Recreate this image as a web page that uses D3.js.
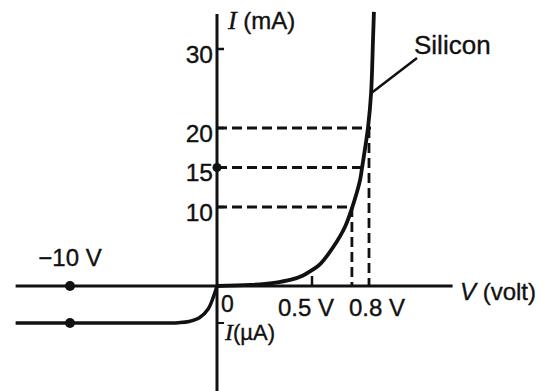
<!DOCTYPE html>
<html>
<head>
<meta charset="utf-8">
<script src="https://cdn.jsdelivr.net/npm/d3@7"></script>
<style>
  html, body { margin: 0; padding: 0; background: #ffffff; }
  svg { display: block; }
  text { font-family: "Liberation Sans", Arial, Helvetica, sans-serif; fill: #111; stroke: #111; stroke-width: 0.35px; }
</style>
</head>
<body>
<svg id="chart" width="552" height="391"></svg>
<script>
// Forward characteristic of a silicon diode: voltage (V) and current (mA)
const forwardVolts = [0, 0.174, 0.3, 0.39, 0.45, 0.5, 0.54, 0.611, 0.674, 0.711, 0.753, 0.763, 0.795, 0.811, 0.821, 0.826];
const forwardMilliamps = [0, 0.13, 0.4, 0.8, 1.3, 2.0, 2.7, 4.9, 7.5, 9.9, 13.4, 14.9, 20.1, 24.4, 31.1, 34.7];

// Reverse characteristic: voltage (V) and leakage current (µA)
const reverseVolts = [-13.7, -10, -5, -2.6, -1.9, -1.2, -0.6, -0.25, 0];
const reverseMicroamps = [-1.0, -1.0, -1.0, -0.99, -0.96, -0.86, -0.62, -0.3, 0];

// Current ticks on the vertical axis (mA) and the reference readings
const currentTicks = [10, 15, 20, 30];
const readingCurrents = [10, 15, 20];
const readingVolts = [0.71, 0.76, 0.8];
const droppedReadings = [10, 20];          // readings carried down to the voltage axis
const voltTicks = [0.5, 0.8];
const voltTickLabels = ["0.5 V", "0.8 V"];
const reverseMarkVolts = [-10];
const reverseMarkLabels = ["\u221210 V"];
const reverseLeakage = -1.0;                // µA plateau marked on the curve

const svg = d3.select("#chart");
const ink = "#111";

// Scales
const x = d3.scaleLinear().domain([0, 0.8]).range([217, 369]);          // forward volts
const xRev = d3.scaleLinear().domain([-10, 0]).range([70, 217]);        // reverse volts
const y = d3.scaleLinear().domain([0, 30]).range([286, 49]);            // mA
const yRev = d3.scaleLinear().domain([-1, 0]).range([323, 286]);        // µA

const originX = x(0), originY = y(0);

// Axes
svg.append("line")
  .attr("x1", xRev(-13.7)).attr("x2", x(1.24))
  .attr("y1", originY).attr("y2", originY)
  .attr("stroke", ink).attr("stroke-width", 3);
svg.append("line")
  .attr("x1", originX).attr("x2", originX)
  .attr("y1", 14).attr("y2", 391)
  .attr("stroke", ink).attr("stroke-width", 3);

// Dashed reference lines
const dash = "10,5";
readingCurrents.forEach((c, i) => {
  svg.append("line")
    .attr("x1", originX).attr("x2", x(readingVolts[i]) + 2)
    .attr("y1", y(c)).attr("y2", y(c))
    .attr("stroke", ink).attr("stroke-width", 2.8)
    .attr("stroke-dasharray", dash);
});
droppedReadings.forEach(c => {
  const v = readingVolts[readingCurrents.indexOf(c)];
  svg.append("line")
    .attr("x1", x(v)).attr("x2", x(v))
    .attr("y1", y(c)).attr("y2", originY)
    .attr("stroke", ink).attr("stroke-width", 2.8)
    .attr("stroke-dasharray", dash);
});

// Current ticks and labels
currentTicks.forEach(c => {
  svg.append("line")
    .attr("x1", originX).attr("x2", originX + 7)
    .attr("y1", y(c)).attr("y2", y(c))
    .attr("stroke", ink).attr("stroke-width", 2.5);
  svg.append("text")
    .attr("x", originX - 4).attr("y", y(c) + 5)
    .attr("dy", "0.35em")
    .attr("text-anchor", "end")
    .attr("font-size", 24.5)
    .text(c);
});
svg.append("circle").attr("cx", originX).attr("cy", y(15)).attr("r", 4.5).attr("fill", ink);

// Leakage tick on the µA side
svg.append("line")
  .attr("x1", originX).attr("x2", originX + 7)
  .attr("y1", yRev(reverseLeakage)).attr("y2", yRev(reverseLeakage))
  .attr("stroke", ink).attr("stroke-width", 2);

// Voltage ticks and labels
voltTicks.forEach((v, i) => {
  if (v === 0.5) {
    svg.append("line")
      .attr("x1", x(v)).attr("x2", x(v))
      .attr("y1", originY).attr("y2", originY - 10)
      .attr("stroke", ink).attr("stroke-width", 2.5);
  }
  svg.append("text")
    .attr("x", x(v) + (i === 0 ? -6 : 8)).attr("y", originY + 30)
    .attr("text-anchor", "middle")
    .attr("font-size", 24)
    .text(voltTickLabels[i]);
});

// Curves
const fwd = forwardVolts.map((v, i) => [x(v), y(forwardMilliamps[i])]);
const rev = reverseVolts.map((v, i) => [xRev(v), yRev(reverseMicroamps[i])]);
const line = d3.line().curve(d3.curveCatmullRom.alpha(0.5));
svg.append("path").attr("d", line(fwd))
  .attr("fill", "none").attr("stroke", ink).attr("stroke-width", 3.8);
svg.append("path").attr("d", line(rev))
  .attr("fill", "none").attr("stroke", ink).attr("stroke-width", 3.5);

// Markers at −10 V on the axis and on the reverse curve
reverseMarkVolts.forEach((v, i) => {
  svg.append("circle").attr("cx", xRev(v)).attr("cy", originY).attr("r", 5).attr("fill", ink);
  svg.append("circle").attr("cx", xRev(v)).attr("cy", yRev(reverseLeakage)).attr("r", 5).attr("fill", ink);
  svg.append("text")
    .attr("x", xRev(v)).attr("y", originY - 20)
    .attr("text-anchor", "middle")
    .attr("font-size", 24)
    .text(reverseMarkLabels[i]);
});

// Curve label with leader
svg.append("line")
  .attr("x1", x(0.811)).attr("y1", y(24.4))
  .attr("x2", 417).attr("y2", 58)
  .attr("stroke", ink).attr("stroke-width", 2.5);
svg.append("text").attr("x", 414).attr("y", 54).attr("font-size", 26).text("Silicon");

// Axis titles
const yTitle = svg.append("text").attr("x", originX + 11).attr("y", 29).attr("font-size", 24);
yTitle.append("tspan").attr("font-style", "italic").attr("font-family", "'Liberation Serif', 'Times New Roman', serif").attr("font-size", 26).text("I");
yTitle.append("tspan").text(" (mA)");

const xTitle = svg.append("text").attr("x", 460).attr("y", 300).attr("font-size", 24);
xTitle.append("tspan").attr("font-style", "italic").text("V");
xTitle.append("tspan").text(" (volt)");

svg.append("text").attr("x", originX + 4).attr("y", originY + 26).attr("font-size", 23).text("0");

const uTitle = svg.append("text").attr("x", originX + 8).attr("y", originY + 54).attr("font-size", 22);
uTitle.append("tspan").attr("font-style", "italic").attr("font-family", "'Liberation Serif', 'Times New Roman', serif").attr("font-size", 24).text("I");
uTitle.append("tspan").text("(\u00b5A)");
</script>
</body>
</html>
